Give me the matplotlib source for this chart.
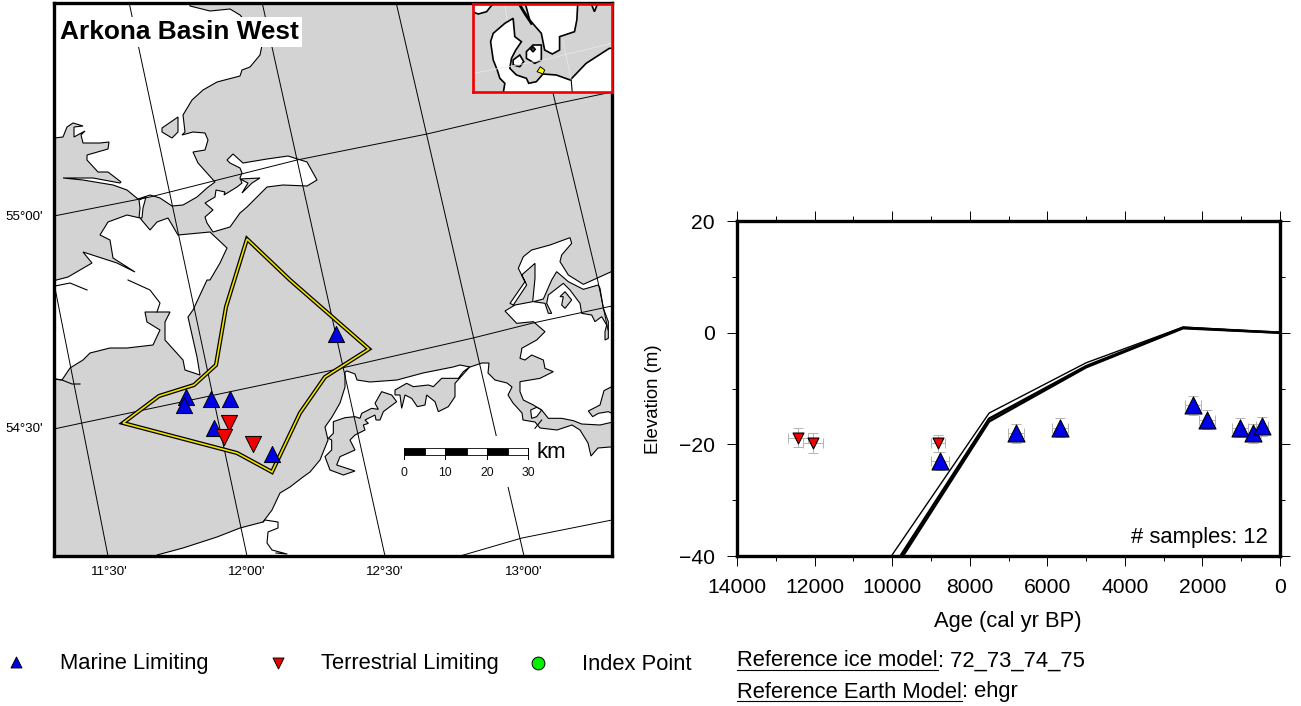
import numpy as np
import matplotlib
matplotlib.use("Agg")
import matplotlib.pyplot as plt
from matplotlib.patches import Polygon, Rectangle

plt.rcParams['font.family'] = ['Liberation Sans', 'DejaVu Sans']

W, H = 1301, 706
SIVA = '#d3d3d3'
TXT = 15.8


def z(pts, x0, y0):
    # tocke citane s uvecanih isjecaka (3x) -> pikseli slike
    return [(x0 + a/3, y0 + b/3) for a, b in pts]


# ---------------- karta: obala, u pikselima slike ----------------
land_north = [(190, -5), (190, 6), (210, 11), (230, 9), (240, 15), (250, 27), (262, 45), (260, 55), (250, 67),
              (242, 70), (240, 76), (217, 82), (203, 90), (192, 100), (183, 115), (185, 132), (182, 135), (193, 132),
              (205, 133), (208, 140), (205, 150), (193, 152), (198, 163), (215, 182), (207, 188), (197, 197),
              (183, 205), (172, 206), (160, 198), (150, 195), (138, 199), (127, 190), (113, 185), (83, 180),
              (63, 178), (93, 178), (120, 183), (121, 182), (108, 172), (98, 172), (87, 160), (87, 155), (108, 149),
              (109, 142), (100, 143), (83, 143), (81, 135), (85, 131), (74, 137), (74, 127), (83, 126), (73, 123),
              (67, 127), (63, 137), (45, 139), (45, -5)]
land_inlet = [(162, 128), (178, 117), (178, 132), (172, 138), (162, 132)]
land_strip = [(139, 200), (146, 197), (143, 208), (142, 218), (139, 218), (140, 208)]
land_west = [(140, 218), (150, 230), (157, 222), (168, 218), (178, 235), (210, 232), (227, 248), (220, 263), (210, 280),
             (207, 280), (193, 310), (188, 317), (197, 357), (200, 375), (185, 370), (183, 360), (165, 340), (165, 322),
             (170, 312), (157, 312), (145, 312), (147, 322), (160, 330), (153, 345), (127, 348), (110, 348), (90, 353),
             (83, 360), (70, 368), (62, 380), (45, 378), (45, 283), (68, 277), (92, 263), (83, 252), (117, 263),
             (135, 272), (113, 258), (110, 240), (100, 235), (108, 222), (127, 215)]
land_island = [(307, 186), (283, 185), (267, 187), (257, 197), (247, 207), (240, 213), (230, 227), (213, 232), (207, 223),
               (205, 217), (213, 210), (205, 203), (215, 197), (216, 190), (225, 192), (224, 195), (237, 187), (242, 183),
               (240, 178), (242, 173), (240, 168), (230, 163), (227, 160), (233, 154), (243, 163), (267, 159), (288, 156),
               (307, 162), (317, 180)]
island_inlet = [(242, 193), (248, 183), (240, 179), (260, 178), (252, 183)]
land_south = [(157, 565), (157, 555), (183, 548), (217, 537), (240, 528), (263, 522), (272, 510), (280, 493), (290, 487),
              (303, 477), (310, 472), (320, 460), (328, 440), (325, 427), (332, 417), (340, 403), (345, 387), (345, 372),
              (347, 371), (355, 374), (357, 380), (370, 382), (397, 380), (423, 373), (453, 367), (460, 365), (470, 367),
              (482, 363), (489, 363), (488, 373), (495, 380), (507, 383), (512, 387), (508, 395), (513, 403), (522, 413),
              (523, 420), (535, 422), (540, 428), (557, 430), (572, 425), (580, 430), (588, 443), (591, 456), (598, 448),
              (610, 447), (625, 447), (625, 565)]
land_east = z([(15, 258), (45, 240), (98, 230), (105, 160), (105, 115), (65, 150), (80, 180), (40, 240), (30, 235),
               (75, 170), (55, 130), (70, 95), (95, 75), (150, 60), (210, 38), (215, 55), (185, 90), (180, 110),
               (205, 150), (250, 178), (290, 160), (345, 135), (345, 400)], 500, 225) + \
    z([(345, 215), (330, 218), (300, 225), (245, 222), (220, 212), (185, 205), (145, 205), (125, 180), (100, 165),
       (70, 150), (60, 125), (60, 95), (120, 85), (160, 65), (135, 55), (130, 30), (95, 15), (75, 30), (60, 25),
       (65, 0)], 500, 350) + \
    z([(65, 370), (110, 345), (135, 320), (100, 290), (50, 295)], 500, 225)
lagoon_a = z([(100, 155), (135, 143), (165, 140), (180, 145), (185, 130), (215, 115), (235, 118), (225, 100), (245, 65),
              (275, 75), (290, 95), (250, 125), (240, 150), (228, 150), (225, 135), (195, 150), (205, 160), (190, 165),
              (195, 180), (165, 195), (150, 210), (165, 240), (120, 260), (110, 285), (165, 303), (130, 315), (90, 300),
              (75, 260), (95, 240), (95, 210), (85, 205), (100, 190)], 300, 370)
lagoon_b = z([(195, 330), (230, 310), (250, 320), (295, 315), (310, 320), (335, 295), (385, 295), (400, 275), (420, 260),
              (375, 310), (375, 350), (355, 380), (325, 395), (315, 365), (290, 345), (285, 375), (262, 380), (245, 355),
              (225, 345), (215, 385), (210, 345), (195, 345)], 330, 280)
lagoon_c = z([(100, 230), (130, 222), (155, 165), (170, 140), (205, 170), (250, 193), (295, 180), (300, 190), (310, 250),
              (325, 290), (325, 340), (315, 345), (315, 320), (320, 300), (305, 275), (285, 290), (275, 270), (245, 265),
              (240, 235), (210, 195), (190, 175), (145, 210), (140, 235), (155, 265), (145, 265), (135, 235)], 500, 225)
lagoon_d = z([(185, 240), (190, 215), (180, 215), (195, 200), (215, 225), (195, 250)], 500, 225)
lagoon_e = z([(345, 105), (312, 122), (300, 165), (265, 183), (278, 200), (295, 190), (325, 185), (345, 195)], 500, 350)
islet_a = z([(92, 180), (110, 172), (125, 180), (110, 200), (95, 205)], 500, 350)
lagoons = [land_inlet, island_inlet, lagoon_a, lagoon_b, lagoon_c, lagoon_d, lagoon_e]
lands = [land_north, land_strip, land_west, land_island, land_south, land_east]

thin_a = [(263, 522), (265, 520), (278, 522), (278, 528), (268, 532), (267, 543), (272, 550), (287, 554), (276, 553)]
thin_b = [(50, 378), (62, 380), (72, 384), (80, 384)]
thin_c = [(128, 280), (150, 290), (160, 303), (157, 312)]
thin_d = [(50, 287), (70, 283), (87, 290)]
thin_e = z([(105, 235), (125, 210)], 500, 350)
thin_lines = [thin_a, thin_b, thin_c, thin_d, thin_e]

# mreza
merid_1130 = [(54, 283), (108, 556)]
merid_1200 = [(129, 2), (247, 556)]
merid_1230 = [(262, 2), (385, 556)]
merid_1300 = [(396, 2), (524, 556)]
merid_1330 = [(553, 93), (597, 277), (608, 330)]
paral_5500 = [(54, 216), (150, 197), (297, 160), (427, 134), (555, 104), (612, 92)]
paral_5430 = [(54, 429), (82, 423), (333, 370), (473, 338), (533, 323), (612, 306)]
paral_5400 = [(460, 556), (522, 538), (612, 520)]
grid_lines = [merid_1130, merid_1200, merid_1230, merid_1300, merid_1330, paral_5500, paral_5430, paral_5400]
lon_labels = ["11°30'", "12°00'", "12°30'", "13°00'"]
lon_pos = [109, 247, 385, 524]
lat_labels = ["55°00'", "54°30'"]
lat_pos = [217, 429]

basin = [(247, 239), (290, 280), (369, 349), (325, 377), (300, 413), (272, 472), (237, 453), (123, 423), (159, 396),
         (194, 385), (216, 365), (226, 307)]
map_marine_x = [186, 184, 211, 230, 214, 272, 336]
map_marine_y = [397, 405, 399, 399, 428, 454, 334]
map_terr_x = [229, 224, 253]
map_terr_y = [423, 437, 444]

scale_edges = [404, 425, 445, 467, 487, 508, 528]
scale_ticks = [404, 445, 487, 528]
scale_labels = ['0', '10', '20', '30']

# ---------------- umetak ----------------
ins_land_sweden = [(585, 5), (600, 60), (635, 100), (645, 150), (668, 162), (690, 150), (690, 110), (735, 95), (742, 60),
                   (745, 5)]
ins_land_norway = [(425, 35), (445, 42), (470, 35), (490, 10), (425, 10)]
ins_land_top = [(785, 10), (795, 35), (805, 10)]
ins_land_main = [(550, 55), (555, 110), (575, 125), (558, 150), (545, 175), (540, 205), (560, 225), (575, 230), (590, 235),
                 (597, 250), (620, 245), (640, 222), (680, 225), (722, 240), (770, 190), (840, 145), (855, 145), (855, 280),
                 (520, 280), (525, 250), (510, 235), (502, 210), (490, 180), (482, 125), (490, 100), (525, 70)]
ins_funen = [(550, 180), (570, 165), (582, 185), (570, 200), (550, 195)]
ins_zealand = [(590, 155), (610, 135), (635, 135), (635, 180), (615, 190), (590, 175)]
ins_hole = [(603, 148), (610, 140), (617, 148), (610, 156)]
ins_basin = [(622, 215), (632, 200), (645, 210), (640, 222)]
ins_border = [(725, 240), (728, 275)]
ins_coast_thick = [(570, 15), (585, 40), (605, 70)]
ins_grid_a = [(430, 220), (640, 180), (848, 130)]
ins_grid_b = [(525, 15), (532, 60)]
ins_grid_c = [(700, 120), (725, 240)]

# ---------------- graf ----------------
marine_age = [8766, 6806, 5672, 2243, 1882, 1031, 696, 464]
marine_elev = [-23.0, -18.0, -17.0, -13.0, -15.6, -17.0, -18.0, -16.8]
marine_age_err = [220, 200, 200, 200, 200, 200, 200, 150]
marine_elev_err = [1.6, 1.7, 1.7, 1.7, 1.7, 1.7, 1.7, 1.7]
terr_age = [12427, 12040, 8818]
terr_elev = [-18.8, -19.8, -19.8]
terr_age_err = [270, 270, 180]
terr_elev_err = [1.7, 1.8, 1.5]

model_age = [0, 2500, 5000, 7500, 10000, 12500]
model_a = [0, 1.0, -5.4, -14.4, -39.8, -65.0]
model_b = [0, 0.9, -6.0, -15.4, -42.3, -69.0]
model_c = [0, 0.8, -6.2, -15.9, -43.0, -70.0]

fig = plt.figure(figsize=(W/100, H/100), dpi=100)


def ax_px(l, t, r, b):
    return fig.add_axes([l/W, 1 - b/H, (r-l)/W, (b-t)/H])


# karta
m = ax_px(54, 3, 612, 556)
m.set_xlim(54, 612)
m.set_ylim(556, 3)
m.set_facecolor(SIVA)
m.set_xticks([])
m.set_yticks([])
for s in m.spines.values():
    s.set_linewidth(2.4)
    s.set_zorder(20)

for p in lands:
    m.add_patch(Polygon(p, fc='white', ec='black', lw=0.8, zorder=1))
for p in lagoons:
    m.add_patch(Polygon(p, fc=SIVA, ec='black', lw=0.8, zorder=2))
m.add_patch(Polygon(islet_a, fc='white', ec='black', lw=0.8, zorder=2))
for p in thin_lines:
    a = np.array(p)
    m.plot(a[:, 0], a[:, 1], color='black', lw=0.8, zorder=2)
for p in grid_lines:
    a = np.array(p)
    m.plot(a[:, 0], a[:, 1], color='black', lw=0.7, zorder=3)

m.add_patch(Polygon(basin, closed=True, fill=False, ec='black', lw=3.0, joinstyle='miter', zorder=4))
m.add_patch(Polygon(basin, closed=True, fill=False, ec='#f0e000', lw=1.2, joinstyle='miter', zorder=5))
m.scatter(map_marine_x, map_marine_y, marker='^', s=135, c='#0000e6', edgecolors='black', linewidths=0.7, zorder=6)
m.scatter(map_terr_x, map_terr_y, marker='v', s=135, c='#f00000', edgecolors='black', linewidths=0.7, zorder=6)

# mjerilo
m.add_patch(Rectangle((398, 436), 172, 51, fc='white', ec='none', zorder=7))
for i in range(6):
    m.add_patch(Rectangle((scale_edges[i], 448), scale_edges[i+1] - scale_edges[i], 7,
                          fc='black' if i % 2 == 0 else 'white', ec='black', lw=0.6, zorder=8))
for xt, lab in zip(scale_ticks, scale_labels):
    m.plot([xt, xt], [448, 459], color='black', lw=0.7, zorder=8)
    m.text(xt, 473, lab, ha='center', va='center', fontsize=8.8, color='#111111', zorder=8)
m.text(536, 453, 'km', ha='left', va='center', fontsize=16, zorder=8)

m.text(60, 32, 'Arkona Basin West', ha='left', va='center', fontsize=18.9, fontweight='bold', zorder=9,
       bbox=dict(fc='white', ec='none', pad=2))

# umetak
ins = ax_px(473, 4, 612, 92)
ins.set_xlim(429, 848)
ins.set_ylim(276, 12)
ins.set_facecolor(SIVA)
ins.set_xticks([])
ins.set_yticks([])
ins.set_zorder(5)
for s in ins.spines.values():
    s.set_color('#f00000')
    s.set_linewidth(1.9)
for p in [ins_land_sweden, ins_land_norway, ins_land_top, ins_land_main, ins_funen, ins_zealand]:
    ins.add_patch(Polygon(p, fc='white', ec='black', lw=1.2))
ins.add_patch(Polygon(ins_hole, fc='#444444', ec='black', lw=1.0))
ins.add_patch(Polygon(ins_basin, fc='#ffff00', ec='black', lw=0.7))
for p, c, w in [(ins_grid_a, '#e8e8e8', 0.6), (ins_grid_b, '#e8e8e8', 0.6), (ins_grid_c, '#e8e8e8', 0.6),
                (ins_border, 'black', 0.8), (ins_coast_thick, 'black', 2.0)]:
    a = np.array(p)
    ins.plot(a[:, 0], a[:, 1], color=c, lw=w)

# graf
g = ax_px(737, 221, 1280, 556)
g.set_xlim(14000, 0)
g.set_ylim(-40, 20)
g.set_xticks(np.arange(0, 14001, 2000))
g.set_xticks(np.arange(0, 14001, 1000), minor=True)
g.set_yticks([-40, -20, 0, 20])
g.set_yticks(np.arange(-40, 21, 10), minor=True)
g.tick_params(which='major', direction='out', length=7.4, width=0.7, top=True, right=True, labelsize=15.2, pad=8.5)
g.tick_params(which='minor', direction='out', length=3.8, width=0.7, top=True, right=True)
for s in g.spines.values():
    s.set_linewidth(2.4)
    s.set_zorder(20)

g.plot(model_age, model_a, color='black', lw=1.0, zorder=2)
g.plot(model_age, model_b, color='black', lw=1.8, zorder=2)
g.plot(model_age, model_c, color='black', lw=1.8, zorder=2)
g.errorbar(marine_age, marine_elev, xerr=marine_age_err, yerr=marine_elev_err, fmt='none', ecolor='#b4b4b4',
           elinewidth=0.7, capsize=3.5, capthick=0.7, zorder=3)
g.errorbar(terr_age, terr_elev, xerr=terr_age_err, yerr=terr_elev_err, fmt='none', ecolor='#b4b4b4',
           elinewidth=0.7, capsize=3.5, capthick=0.7, zorder=3)
g.scatter(marine_age, marine_elev, marker='^', s=150, c='#0000e6', edgecolors='black', linewidths=0.8, zorder=4)
g.scatter(terr_age, terr_elev, marker='v', s=62, c='#f00000', edgecolors='black', linewidths=0.8, zorder=4)

# tekst izvan osi, u pikselima
t = fig.add_axes([0, 0, 1, 1], facecolor='none')
t.set_xlim(0, W)
t.set_ylim(H, 0)
t.axis('off')
t.set_zorder(10)

for x, lab in zip(lon_pos, lon_labels):
    t.text(x, 572, lab, ha='center', va='center', fontsize=9.6)
for y, lab in zip(lat_pos, lat_labels):
    t.text(24, y, lab, ha='center', va='center', fontsize=9.6)

t.text(1008, 621, 'Age (cal yr BP)', ha='center', va='center', fontsize=TXT)
t.text(653, 399, 'Elevation (m)', ha='center', va='center', rotation=90, fontsize=13.4)
t.text(1268, 537, '# samples: 12', ha='right', va='center', fontsize=TXT)

t.scatter([16], [662], marker='^', s=62, c='#0000e6', edgecolors='black', linewidths=0.7)
t.scatter([278], [663], marker='v', s=62, c='#f00000', edgecolors='black', linewidths=0.7)
t.scatter([538], [663], marker='o', s=85, c='#00f000', edgecolors='black', linewidths=0.7)
t.text(60, 664, 'Marine Limiting', ha='left', va='center', fontsize=TXT)
t.text(321, 664, 'Terrestrial Limiting', ha='left', va='center', fontsize=TXT)
t.text(582, 664, 'Index Point', ha='left', va='center', fontsize=TXT)

ren = fig.canvas.get_renderer()
for y, name, val in [(661, 'Reference ice model', ': 72_73_74_75'), (692, 'Reference Earth Model', ': ehgr')]:
    a = t.text(737, y, name, ha='left', va='center', fontsize=TXT)
    e = a.get_window_extent(ren)
    t.plot([737, e.x1], [y + 9, y + 9], color='black', lw=0.8)
    t.text(e.x1, y, val, ha='left', va='center', fontsize=TXT)
t.set_xlim(0, W)
t.set_ylim(H, 0)

fig.savefig('out.png', dpi=100)
